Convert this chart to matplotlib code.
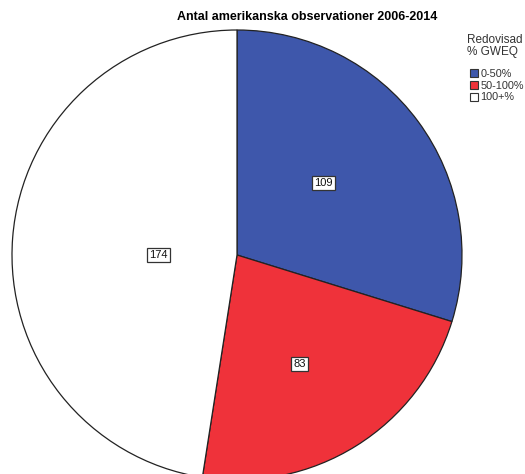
import numpy as np
import matplotlib
matplotlib.use('Agg')
import matplotlib.pyplot as plt
from matplotlib.patches import Patch

plt.rcParams['font.family'] = ['Liberation Sans', 'DejaVu Sans']

# antal observationer per kategori
categories = ['0-50%', '50-100%', '100+%']
counts = [109, 83, 174]
colors = ['#3E57AB', '#EF323A', '#FFFFFF']
# etikettplacering: avstand fran mitten och vinkeljustering (grader)
label_dist = [0.50, 0.56, 0.35]
label_shift = [3.5, -2.0, 4.4]

W, H = 525, 474
cx, cy, R = 237, 255, 225  # pajens mitt/radie i pixlar

fig = plt.figure(figsize=(W / 100, H / 100), dpi=100)
ax = fig.add_axes([0, 0, 1, 1])

wedges, _ = ax.pie(counts, colors=colors, startangle=90, counterclock=False,
                   radius=1, center=(0, 0), frame=True,
                   wedgeprops=dict(edgecolor='#222222', linewidth=0.9))
ax.axis('off')
ax.set_xlim(-cx / R, (W - cx) / R)
ax.set_ylim((cy - H) / R, cy / R)

for w, n, d, s in zip(wedges, counts, label_dist, label_shift):
    ang = np.deg2rad((w.theta1 + w.theta2) / 2 + s)
    ax.text(d * np.cos(ang), d * np.sin(ang), str(n), ha='center', va='center',
            fontsize=8, color='#111111',
            bbox=dict(boxstyle='square,pad=0.2', fc='white', ec='#333333', lw=0.9))

fig.text(307 / W, 1 - 17 / H, 'Antal amerikanska observationer 2006-2014',
         ha='center', va='center', fontsize=9, fontweight='bold')

fig.text(467 / W, 1 - 46 / H, 'Redovisad\n% GWEQ', ha='left', va='center',
         fontsize=8.5, color='#333333', linespacing=1.0)

handles = [Patch(facecolor=c, edgecolor='#333333', linewidth=0.8) for c in colors]
fig.legend(handles, categories, loc='upper left', bbox_to_anchor=(462 / W, 1 - 61 / H),
           frameon=False, fontsize=7.8, handlelength=0.8, handleheight=0.8,
           handletextpad=0.2, labelspacing=0.18, borderpad=0.2,
           labelcolor='#333333')

fig.savefig('out.png', dpi=100)
